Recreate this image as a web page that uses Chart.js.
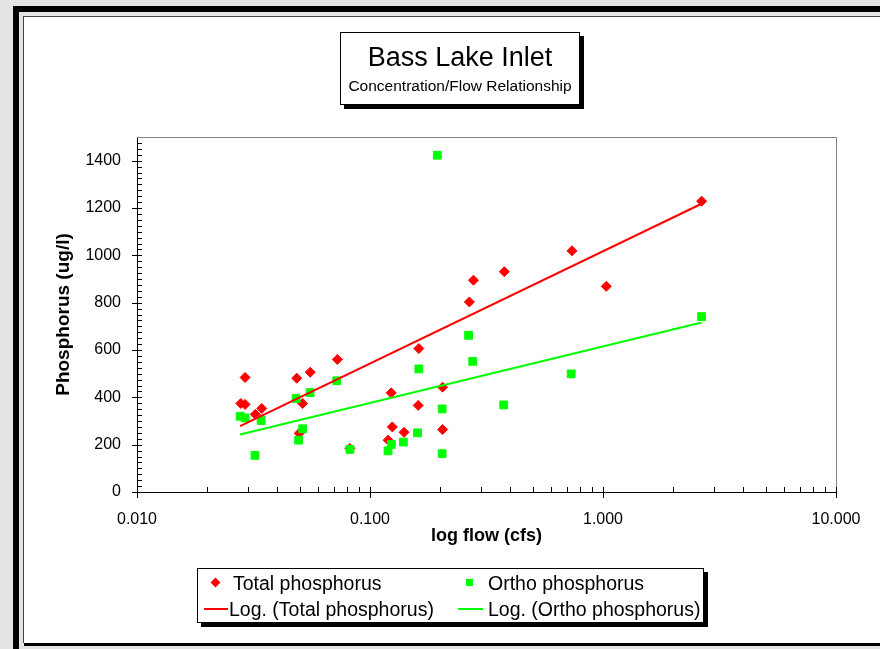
<!DOCTYPE html>
<html>
<head>
<meta charset="utf-8">
<script src="https://cdn.jsdelivr.net/npm/chart.js@4/dist/chart.umd.min.js"></script>
<style>
  html, body { margin: 0; padding: 0; }
  body { width: 880px; height: 649px; position: relative; overflow: hidden;
         background: #e4e4e4; font-family: "Liberation Sans", Arial, sans-serif; }
  .bar { position: absolute; background: #000; }
  #panel { position: absolute; left: 23px; top: 16px; width: 900px; height: 626px;
           background: #fff; border-left: 1px solid #444; border-top: 1px solid #444; }
  #chartWrap { position: absolute; left: 0; top: 0; width: 880px; height: 649px; }
  .box { position: absolute; background: #fff; border: 1px solid #000; box-shadow: 4px 4px 0 #000; }
  #titleBox { left: 340px; top: 32px; width: 238px; height: 71px; text-align: center; }
  #titleBox .t1 { position: absolute; left: 0; right: 0; top: 9px; font-size: 27px; line-height: 30px; }
  #titleBox .t2 { position: absolute; left: 0; right: 0; top: 44px; font-size: 15.5px; line-height: 18px; }
  #legendBox { left: 197px; top: 568px; width: 505px; height: 53px; font-size: 19.5px; }
  .item { position: absolute; line-height: 22px; white-space: nowrap; }
  .item span.mk { position: absolute; }
</style>
</head>
<body>
<div class="bar" style="left:13px;top:6px;width:880px;height:6px"></div>
<div class="bar" style="left:13px;top:6px;width:6px;height:650px"></div>
<div id="panel"></div>
<div class="bar" style="left:24px;top:643px;width:880px;height:3px"></div>
<div id="chartWrap"><canvas id="chart" width="880" height="649"></canvas></div>
<div class="box" id="titleBox">
  <div class="t1">Bass Lake Inlet</div>
  <div class="t2">Concentration/Flow Relationship</div>
</div>
<div class="box" id="legendBox">
  <div class="item" style="left:0;top:3px">
    <span class="mk" style="left:14px;top:7px;width:7px;height:7px;background:#ff0000;transform:rotate(45deg)"></span>
    <span style="position:absolute;left:35px">Total phosphorus</span>
  </div>
  <div class="item" style="left:0;top:3px">
    <span class="mk" style="left:268px;top:7px;width:7px;height:7px;background:#00ff00"></span>
    <span style="position:absolute;left:290px">Ortho phosphorus</span>
  </div>
  <div class="item" style="left:0;top:29px">
    <span class="mk" style="left:6px;top:10px;width:24px;height:2px;background:#ff0000"></span>
    <span style="position:absolute;left:31px">Log. (Total phosphorus)</span>
  </div>
  <div class="item" style="left:0;top:29px">
    <span class="mk" style="left:260px;top:10px;width:25px;height:2px;background:#00ff00"></span>
    <span style="position:absolute;left:290px">Log. (Ortho phosphorus)</span>
  </div>
</div>
<script>
// flow (cfs) and concentration (ug/l)
const totalFlow = [0.0279, 0.0291, 0.0291, 0.0322, 0.0343, 0.0485, 0.0497, 0.0514, 0.0554, 0.0724,
                   0.082, 0.1196, 0.1233, 0.1247, 0.140, 0.161, 0.162, 0.205, 0.205, 0.267,
                   0.278, 0.377, 0.736, 1.033, 2.65];
const totalP    = [374, 370, 484, 328, 353, 481, 248, 374, 506, 560,
                   184, 219, 419, 275, 252, 366, 606, 443, 264, 803,
                   895, 931, 1019, 869, 1229];
const orthoFlow = [0.0277, 0.0291, 0.0321, 0.0341, 0.0482, 0.0494, 0.0514, 0.0553, 0.072, 0.082,
                   0.1195, 0.1235, 0.139, 0.160, 0.162, 0.1945, 0.204, 0.204, 0.265, 0.276,
                   0.375, 0.730, 2.65];
const orthoP    = [320, 313, 155, 302, 395, 219, 267, 420, 470, 180,
                   174, 201, 211, 250, 520, 1423, 351, 162, 662, 552,
                   368, 499, 741];
// trend line end points
const trendFlow  = [0.0277, 2.65];
const totalTrend = [278, 1218];
const orthoTrend = [243, 716];

const xTickValues = [0.01, 0.1, 1, 10];
const xTickLabels = ['0.010', '0.100', '1.000', '10.000'];
const yTickValues = [0, 200, 400, 600, 800, 1000, 1200, 1400];

const pts = (xs, ys) => xs.map((x, i) => ({ x: x, y: ys[i] }));

// axis ticks (major crossing, minor inside) and the grey plot border
const tickPlugin = {
  id: 'ticks',
  afterDraw(chart) {
    const ctx = chart.ctx, a = chart.chartArea;
    const xs = chart.scales.x, ys = chart.scales.y;
    ctx.save();
    ctx.strokeStyle = '#808080';
    ctx.lineWidth = 1;
    ctx.beginPath();
    ctx.moveTo(a.left, a.top + 0.5); ctx.lineTo(a.right + 0.5, a.top + 0.5);
    ctx.lineTo(a.right + 0.5, a.bottom);
    ctx.stroke();
    ctx.strokeStyle = '#000';
    ctx.beginPath();
    for (let v = 0; v < 1500; v += 25) {
      const y = Math.round(ys.getPixelForValue(v)) + 0.5;
      const major = v % 200 === 0;
      ctx.moveTo(a.left - (major ? 5 : 0), y); ctx.lineTo(a.left + 5, y);
    }
    for (const d of [0.01, 0.1, 1]) {
      for (let k = 1; k <= 10; k++) {
        const x = Math.round(xs.getPixelForValue(d * k)) + 0.5;
        const major = k === 1 || k === 10;
        ctx.moveTo(x, a.bottom - 5); ctx.lineTo(x, a.bottom + (major ? 6 : 0));
      }
    }
    ctx.stroke();
    ctx.restore();
  }
};

new Chart(document.getElementById('chart'), {
  type: 'scatter',
  data: {
    datasets: [
      { label: 'Log. (Total phosphorus)', type: 'line', data: pts(trendFlow, totalTrend),
        borderColor: '#ff0000', borderWidth: 2, pointRadius: 0, fill: false, order: 0 },
      { label: 'Log. (Ortho phosphorus)', type: 'line', data: pts(trendFlow, orthoTrend),
        borderColor: '#00ff00', borderWidth: 2, pointRadius: 0, fill: false, order: 0 },
      { label: 'Ortho phosphorus', data: pts(orthoFlow, orthoP), pointStyle: 'rect',
        pointRadius: 5.5, backgroundColor: '#00ff00', borderColor: '#00ff00', borderWidth: 1, order: 1 },
      { label: 'Total phosphorus', data: pts(totalFlow, totalP), pointStyle: 'rectRot',
        pointRadius: 5, backgroundColor: '#ff0000', borderColor: '#ff0000', borderWidth: 1, order: 2 }
    ]
  },
  options: {
    responsive: false,
    animation: false,
    events: [],
    layout: { padding: { left: 48, top: 137, right: 44, bottom: 98 } },
    plugins: { legend: { display: false }, tooltip: { enabled: false } },
    scales: {
      x: {
        type: 'logarithmic', min: 0.01, max: 10,
        afterFit: s => { s.height = 59; },
        afterBuildTicks: s => { s.ticks = xTickValues.map(v => ({ value: v })); },
        grid: { display: false, drawTicks: false },
        border: { display: true, color: '#000', width: 1 },
        ticks: {
          padding: 18, color: '#000', autoSkip: false, maxRotation: 0,
          font: { family: 'Liberation Sans', size: 16 },
          callback: v => xTickLabels[xTickValues.indexOf(v)]
        },
        title: { display: true, text: 'log flow (cfs)', color: '#000',
                 font: { family: 'Liberation Sans', size: 18, weight: 'bold' } }
      },
      y: {
        min: 0, max: 1500,
        afterFit: s => { s.width = 137 - 48; },
        afterBuildTicks: s => { s.ticks = yTickValues.map(v => ({ value: v })); },
        grid: { display: false, drawTicks: false },
        border: { display: true, color: '#000', width: 1 },
        ticks: { padding: 16, color: '#000', font: { family: 'Liberation Sans', size: 16 },
                 callback: v => String(v) },
        title: { display: true, text: 'Phosphorus (ug/l)', color: '#000',
                 font: { family: 'Liberation Sans', size: 19, weight: 'bold' } }
      }
    }
  },
  plugins: [tickPlugin]
});
</script>
</body>
</html>
